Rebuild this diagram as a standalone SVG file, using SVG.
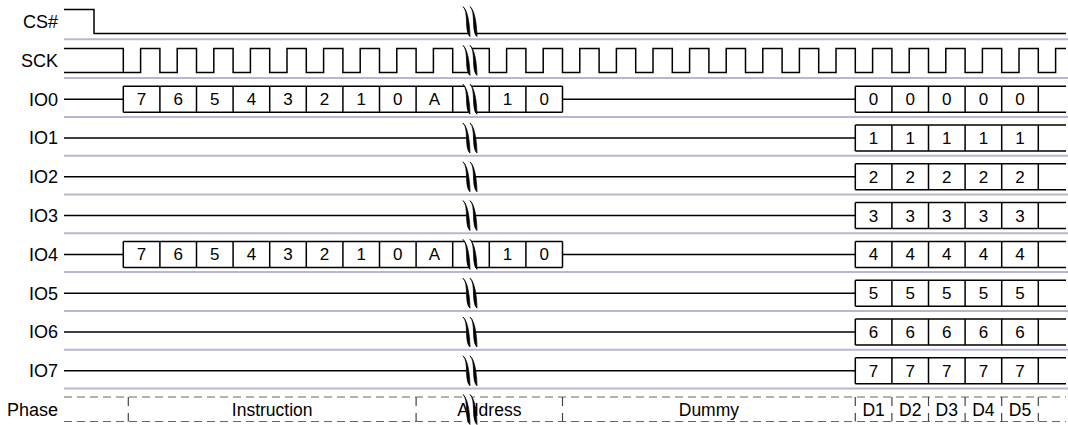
<svg xmlns="http://www.w3.org/2000/svg" width="1068" height="425" viewBox="0 0 1068 425">
<style>
  .lbl{font-family:"Liberation Sans",Arial,sans-serif;font-size:18px;fill:#000;text-anchor:end}
  .ct{font-family:"Liberation Sans",Arial,sans-serif;font-size:17px;fill:#000;text-anchor:middle}
  .pt{font-family:"Liberation Sans",Arial,sans-serif;font-size:17.5px;fill:#000;text-anchor:middle}
  .w{fill:none;stroke:#000;stroke-width:1.5}
  .sep{stroke:#b6b8d2;stroke-width:2}
  .ph{fill:none;stroke:#666;stroke-width:1.2;stroke-dasharray:8,5}
  .pv{fill:none;stroke:#444;stroke-width:1.2;stroke-dasharray:9,7}
  .gs{fill:#000;stroke:#000;stroke-width:0.7}
</style>
<defs>
  <g id="gap">
    <path d="M-7,-15 C-1,-10 -6,10 0,15 L7,15 C1,10 6,-10 0,-15 Z" fill="#fff" stroke="none"/>
    <path class="gs" d="M-7,-15 C-1,-10 -6,10 0,15 C0,10 -1,-10 -7,-15 Z"/>
    <path class="gs" d="M0,-15 C6,-10 1,10 7,15 C7,10 6,-10 0,-15 Z"/>
  </g>
  <g id="dcells">
    <path class="w" d="M855.3,-13 H1066 M855.3,13 H1066 M855.3,-13 V13 M891.9,-13 V13 M928.5,-13 V13 M965.1,-13 V13 M1001.7,-13 V13 M1038.3,-13 V13"/>
  </g>
  <g id="iocells">
    <path class="w" d="M64,0 H123.3 M123.3,-13 H562.5 M123.3,13 H562.5 M123.3,-13 V13 M159.9,-13 V13 M196.5,-13 V13 M233.1,-13 V13 M269.7,-13 V13 M306.3,-13 V13 M342.9,-13 V13 M379.5,-13 V13 M416.1,-13 V13 M452.7,-13 V13 M489.3,-13 V13 M525.9,-13 V13 M562.5,-13 V13 M562.5,0 H855.3"/>
    <g class="ct">
      <text x="141.6" y="6">7</text><text x="178.2" y="6">6</text><text x="214.8" y="6">5</text><text x="251.4" y="6">4</text><text x="288" y="6">3</text><text x="324.6" y="6">2</text><text x="361.2" y="6">1</text><text x="397.8" y="6">0</text><text x="434.4" y="6">A</text><text x="507.6" y="6">1</text><text x="544.2" y="6">0</text>
    </g>
  </g>
  <path id="flat" class="w" d="M64,0 H855.3"/>
</defs>

<g id="separators">
  <path class="sep" d="M64,39.3 H1068 M64,78.1 H1068 M64,116.9 H1068 M64,155.7 H1068 M64,194.5 H1068 M64,233.3 H1068 M64,272.1 H1068 M64,310.9 H1068 M64,349.7 H1068 M64,388.5 H1068"/>
</g>

<g id="labels">
  <text class="lbl" x="58" y="28">CS#</text>
  <text class="lbl" x="58" y="66.8">SCK</text>
  <text class="lbl" x="58" y="105.6">IO0</text>
  <text class="lbl" x="58" y="144.4">IO1</text>
  <text class="lbl" x="58" y="183.2">IO2</text>
  <text class="lbl" x="58" y="222">IO3</text>
  <text class="lbl" x="58" y="260.8">IO4</text>
  <text class="lbl" x="58" y="299.6">IO5</text>
  <text class="lbl" x="58" y="338.4">IO6</text>
  <text class="lbl" x="58" y="377.2">IO7</text>
  <text class="lbl" x="58" y="415.8">Phase</text>
</g>

<g id="cs">
  <path class="w" d="M64,9.6 H94 V33.6 H1066"/>
</g>

<g id="sck">
  <path class="w" d="M64,48.4 H123.3 V72.4 M64,72.4 H140.6 V48.4 H159.9 V72.4 H177.2 V48.4 H196.5 V72.4 H213.8 V48.4 H233.1 V72.4 H250.4 V48.4 H269.7 V72.4 H287 V48.4 H306.3 V72.4 H323.6 V48.4 H342.9 V72.4 H360.2 V48.4 H379.5 V72.4 H396.8 V48.4 H416.1 V72.4 H433.4 V48.4 H452.7 V72.4 H470 V48.4 H489.3 V72.4 H506.6 V48.4 H525.9 V72.4 H543.2 V48.4 H562.5 V72.4 H579.8 V48.4 H599.1 V72.4 H616.4 V48.4 H635.7 V72.4 H653 V48.4 H672.3 V72.4 H689.6 V48.4 H708.9 V72.4 H726.2 V48.4 H745.5 V72.4 H762.8 V48.4 H782.1 V72.4 H799.4 V48.4 H818.7 V72.4 H836 V48.4 H855.3 V72.4 H872.6 V48.4 H891.9 V72.4 H909.2 V48.4 H928.5 V72.4 H945.8 V48.4 H965.1 V72.4 H982.4 V48.4 H1001.7 V72.4 H1019 V48.4 H1038.3 V72.4 H1055.6 V48.4 H1066"/>
</g>

<g id="io0" transform="translate(0,99.2)">
  <use href="#iocells"/><use href="#dcells"/>
  <g class="ct"><text x="873.6" y="6">0</text><text x="910.2" y="6">0</text><text x="946.8" y="6">0</text><text x="983.4" y="6">0</text><text x="1020" y="6">0</text></g>
</g>
<g id="io1" transform="translate(0,138)">
  <use href="#flat"/><use href="#dcells"/>
  <g class="ct"><text x="873.6" y="6">1</text><text x="910.2" y="6">1</text><text x="946.8" y="6">1</text><text x="983.4" y="6">1</text><text x="1020" y="6">1</text></g>
</g>
<g id="io2" transform="translate(0,176.8)">
  <use href="#flat"/><use href="#dcells"/>
  <g class="ct"><text x="873.6" y="6">2</text><text x="910.2" y="6">2</text><text x="946.8" y="6">2</text><text x="983.4" y="6">2</text><text x="1020" y="6">2</text></g>
</g>
<g id="io3" transform="translate(0,215.6)">
  <use href="#flat"/><use href="#dcells"/>
  <g class="ct"><text x="873.6" y="6">3</text><text x="910.2" y="6">3</text><text x="946.8" y="6">3</text><text x="983.4" y="6">3</text><text x="1020" y="6">3</text></g>
</g>
<g id="io4" transform="translate(0,254.4)">
  <use href="#iocells"/><use href="#dcells"/>
  <g class="ct"><text x="873.6" y="6">4</text><text x="910.2" y="6">4</text><text x="946.8" y="6">4</text><text x="983.4" y="6">4</text><text x="1020" y="6">4</text></g>
</g>
<g id="io5" transform="translate(0,293.2)">
  <use href="#flat"/><use href="#dcells"/>
  <g class="ct"><text x="873.6" y="6">5</text><text x="910.2" y="6">5</text><text x="946.8" y="6">5</text><text x="983.4" y="6">5</text><text x="1020" y="6">5</text></g>
</g>
<g id="io6" transform="translate(0,332)">
  <use href="#flat"/><use href="#dcells"/>
  <g class="ct"><text x="873.6" y="6">6</text><text x="910.2" y="6">6</text><text x="946.8" y="6">6</text><text x="983.4" y="6">6</text><text x="1020" y="6">6</text></g>
</g>
<g id="io7" transform="translate(0,370.8)">
  <use href="#flat"/><use href="#dcells"/>
  <g class="ct"><text x="873.6" y="6">7</text><text x="910.2" y="6">7</text><text x="946.8" y="6">7</text><text x="983.4" y="6">7</text><text x="1020" y="6">7</text></g>
</g>

<g id="phase">
  <path class="ph" d="M64,397 H1066 M64,421.5 H1066"/>
  <path class="pv" d="M128.3,397 V421.5 M416.1,397 V421.5 M562.5,397 V421.5 M855.3,397 V421.5 M891.9,397 V421.5 M928.5,397 V421.5 M965.1,397 V421.5 M1001.7,397 V421.5 M1038.3,397 V421.5"/>
  <text class="pt" x="272.2" y="415.7">Instruction</text>
  <text class="pt" x="489.3" y="415.7">Address</text>
  <text class="pt" x="708.9" y="415.7">Dummy</text>
  <text class="pt" x="873.6" y="415.7">D1</text>
  <text class="pt" x="910.2" y="415.7">D2</text>
  <text class="pt" x="946.8" y="415.7">D3</text>
  <text class="pt" x="983.4" y="415.7">D4</text>
  <text class="pt" x="1020" y="415.7">D5</text>
</g>

<g id="gaps">
  <use href="#gap" transform="translate(470,21.6)"/>
  <use href="#gap" transform="translate(470,60.4)"/>
  <use href="#gap" transform="translate(470,99.2)"/>
  <use href="#gap" transform="translate(470,138)"/>
  <use href="#gap" transform="translate(470,176.8)"/>
  <use href="#gap" transform="translate(470,215.6)"/>
  <use href="#gap" transform="translate(470,254.4)"/>
  <use href="#gap" transform="translate(470,293.2)"/>
  <use href="#gap" transform="translate(470,332)"/>
  <use href="#gap" transform="translate(470,370.8)"/>
  <use href="#gap" transform="translate(470,409.5)"/>
</g>
</svg>
